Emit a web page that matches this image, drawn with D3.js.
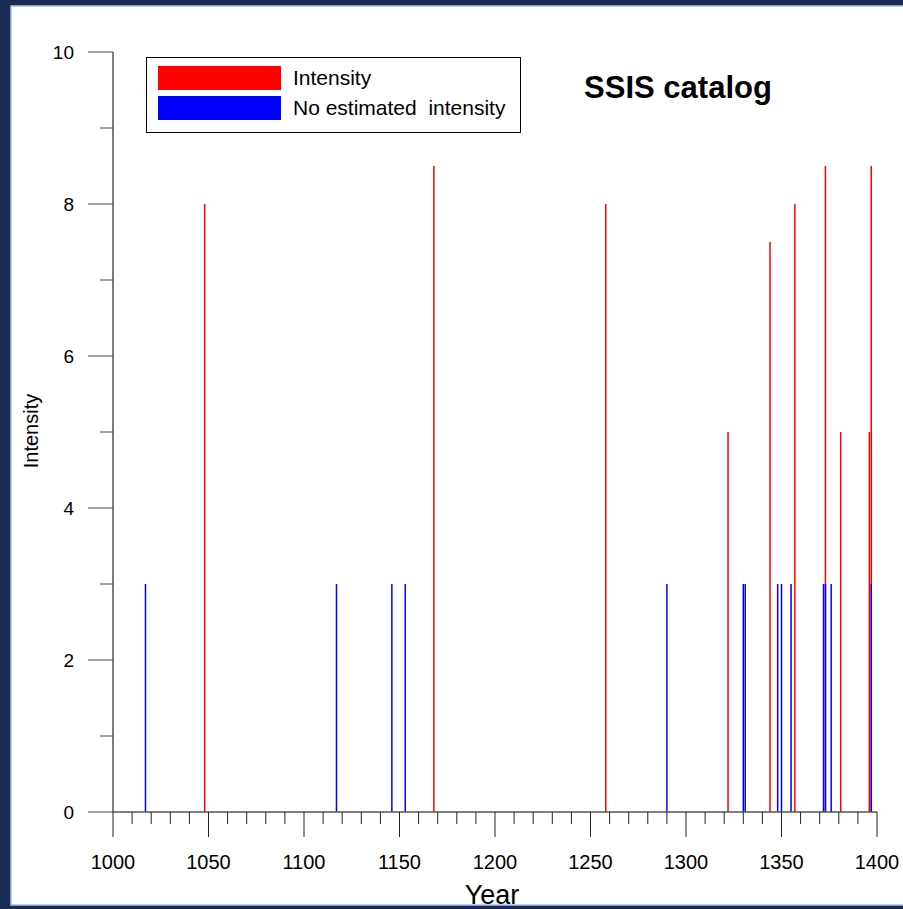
<!DOCTYPE html>
<html>
<head>
<meta charset="utf-8">
<script src="https://cdn.jsdelivr.net/npm/d3@7"></script>
<style>
  html, body { margin: 0; padding: 0; background: #1a2b55; }
  svg { display: block; }
  text { font-family: Arial, "Liberation Sans", sans-serif; }
</style>
</head>
<body>
<script>
// Data
const intensityYears  = [1048, 1168, 1258, 1322, 1344, 1357, 1373, 1381, 1396, 1397];
const intensityValues = [8, 8.5, 8, 5, 7.5, 8, 8.5, 5, 5, 8.5];
const noEstYears  = [1017, 1117, 1146, 1153, 1290, 1330, 1331, 1348, 1350, 1355, 1372, 1373, 1376, 1397];
const noEstValue  = 3;
const xTickLabels = [1000, 1050, 1100, 1150, 1200, 1250, 1300, 1350, 1400];
const yTickLabels = [0, 2, 4, 6, 8, 10];
const legendLabels = ["Intensity", "No estimated  intensity"];
const titleText = "SSIS catalog";

const W = 903, H = 909;
const svg = d3.select("body").append("svg").attr("width", W).attr("height", H);

// background panel
svg.append("rect").attr("x", 0).attr("y", 0).attr("width", W).attr("height", H).attr("fill", "#1a2b55");
svg.append("rect").attr("x", 11).attr("y", 6).attr("width", W - 11 + 2).attr("height", 899)
  .attr("fill", "#fff").attr("stroke", "#9fc3e8").attr("stroke-width", 1.5);

const x = d3.scaleLinear().domain([1000, 1400]).range([113, 877]);
const y = d3.scaleLinear().domain([0, 10]).range([812, 52]);

// spikes: red then blue
const red = intensityYears.map((yr, i) => ({ yr, v: intensityValues[i] }));
svg.append("g").selectAll("line").data(red).join("line")
  .attr("x1", d => x(d.yr)).attr("x2", d => x(d.yr))
  .attr("y1", y(0)).attr("y2", d => y(d.v))
  .attr("stroke", "#ff0000").attr("stroke-width", 1.5);

svg.append("g").selectAll("line").data(noEstYears).join("line")
  .attr("x1", d => x(d)).attr("x2", d => x(d))
  .attr("y1", y(0)).attr("y2", y(noEstValue))
  .attr("stroke", "#0000ff").attr("stroke-width", 1.5);

// Y axis
const yAxisG = svg.append("g");
yAxisG.append("line").attr("x1", 113).attr("x2", 113).attr("y1", y(10)).attr("y2", y(0))
  .attr("stroke", "#000").attr("stroke-width", 1);
const yMinor = d3.range(1, 10, 2);
yAxisG.selectAll("line.maj").data(yTickLabels).join("line").attr("class", "maj")
  .attr("x1", 88).attr("x2", 113).attr("y1", d => y(d)).attr("y2", d => y(d))
  .attr("stroke", "#444").attr("stroke-width", 1);
yAxisG.selectAll("line.min").data(yMinor).join("line").attr("class", "min")
  .attr("x1", 100).attr("x2", 113).attr("y1", d => y(d)).attr("y2", d => y(d))
  .attr("stroke", "#444").attr("stroke-width", 1);
yAxisG.selectAll("text").data(yTickLabels).join("text")
  .attr("x", 74).attr("y", d => y(d)).attr("dy", "0.35em")
  .attr("text-anchor", "end").attr("font-size", 19).attr("fill", "#000")
  .text(d => d);

// X axis
const xAxisG = svg.append("g");
xAxisG.append("line").attr("x1", 113).attr("x2", 877).attr("y1", y(0)).attr("y2", y(0))
  .attr("stroke", "#555").attr("stroke-width", 1.5);
const xMinor = d3.range(1010, 1400, 10).filter(v => v % 50 !== 0);
xAxisG.selectAll("line.min").data(xMinor).join("line").attr("class", "min")
  .attr("x1", d => x(d)).attr("x2", d => x(d)).attr("y1", y(0)).attr("y2", y(0) + 12)
  .attr("stroke", "#222").attr("stroke-width", 1);
xAxisG.selectAll("line.maj").data(xTickLabels).join("line").attr("class", "maj")
  .attr("x1", d => x(d)).attr("x2", d => x(d)).attr("y1", y(0)).attr("y2", y(0) + 25)
  .attr("stroke", "#222").attr("stroke-width", 1);
xAxisG.selectAll("text").data(xTickLabels).join("text")
  .attr("x", d => x(d)).attr("y", 862).attr("dy", "0.35em")
  .attr("text-anchor", "middle").attr("font-size", 20).attr("fill", "#000")
  .text(d => d);

// Axis titles
svg.append("text").attr("x", 492).attr("y", 904).attr("text-anchor", "middle")
  .attr("font-size", 27).attr("fill", "#000").text("Year");
svg.append("text").attr("transform", "translate(38,431) rotate(-90)")
  .attr("text-anchor", "middle").attr("font-size", 20).attr("fill", "#000").text("Intensity");

// Title
svg.append("text").attr("x", 678).attr("y", 98).attr("text-anchor", "middle")
  .attr("font-size", 31).attr("font-weight", "bold").attr("fill", "#000").text(titleText);

// Legend
const lg = svg.append("g");
lg.append("rect").attr("x", 146.5).attr("y", 57.5).attr("width", 374).attr("height", 75)
  .attr("fill", "#fff").attr("stroke", "#000").attr("stroke-width", 1);
const legColors = ["#ff0000", "#0000ff"];
lg.selectAll("rect.sw").data(legendLabels).join("rect").attr("class", "sw")
  .attr("x", 158).attr("y", (d, i) => 66 + i * 30).attr("width", 123).attr("height", 24)
  .attr("fill", (d, i) => legColors[i]);
lg.selectAll("text").data(legendLabels).join("text")
  .attr("x", 293).attr("y", (d, i) => 78 + i * 30).attr("dy", "0.35em")
  .attr("font-size", 21).attr("fill", "#000").attr("xml:space", "preserve")
  .style("white-space", "pre")
  .text(d => d);
</script>
</body>
</html>
